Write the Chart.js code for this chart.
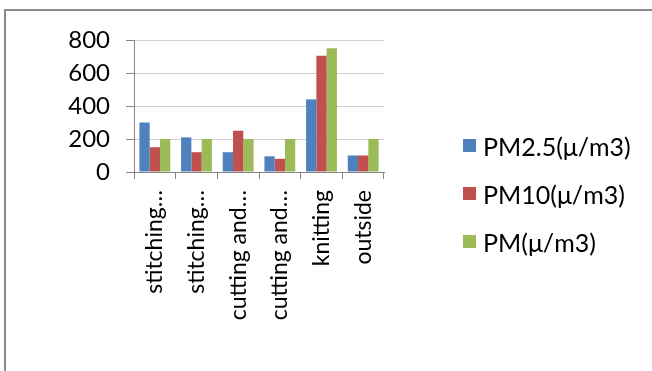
<!DOCTYPE html>
<html>
<head>
<meta charset="utf-8">
<script src="https://cdn.jsdelivr.net/npm/chart.js@4.4.1/dist/chart.umd.min.js"></script>
<style>
  html, body { margin: 0; padding: 0; background: #fff; }
  #wrap { position: relative; width: 652px; height: 371px; overflow: hidden; }
  #frame { position: absolute; left: 4px; top: 9px; width: 700px; height: 420px;
           border: 2px solid #8a8a8a; box-sizing: border-box; }
  #chart { position: absolute; left: 0; top: 0; }
  #legend { position: absolute; left: 463px; top: 0; font-family: Lato, "Noto Sans", sans-serif;
            font-size: 25px; color: #000; }
  .item { position: absolute; left: 0; white-space: nowrap; height: 26px; line-height: 26px; }
  .swatch { position: absolute; left: 0; top: 6px; width: 13px; height: 13px; }
  .label { position: absolute; left: 20px; top: 0; }
</style>
</head>
<body>
<div id="wrap">
  <div id="frame"></div>
  <canvas id="chart" width="652" height="371"></canvas>
  <div id="legend"></div>
</div>
<script>
// Sampling locations
const categories = ["stitching…", "stitching…", "cutting and…", "cutting and…", "knitting", "outside"];

// Particulate concentrations per location
const pm25 = [300, 210, 120, 95, 440, 100];
const pm10 = [150, 120, 250, 80, 705, 100];
const pmTotal = [200, 200, 200, 200, 750, 200];

const seriesNames = ["PM2.5(μ/m3)", "PM10(μ/m3)", "PM(μ/m3)"];
const seriesColors = ["#4F81BD", "#C0504D", "#9BBB59"];

// Y axis tick values
const yTicks = [0, 200, 400, 600, 800];

const FONT = "Lato, 'Noto Sans', sans-serif";

const datasets = [pm25, pm10, pmTotal].map((values, i) => ({
  label: seriesNames[i],
  data: values,
  backgroundColor: seriesColors[i],
  borderWidth: 0,
  categoryPercentage: 0.74,
  barPercentage: 1.0
}));

const chart = new Chart(document.getElementById("chart"), {
  type: "bar",
  data: { labels: categories, datasets },
  options: {
    responsive: false,
    animation: false,
    devicePixelRatio: 1,
    layout: { padding: { left: 0, right: 268, top: 40, bottom: 0 } },
    plugins: { legend: { display: false }, tooltip: { enabled: false } },
    scales: {
      x: {
        offset: true,
        grid: { offset: true, drawOnChartArea: false, drawTicks: true, tickLength: 7, color: "#868686" },
        border: { display: true, color: "#868686", width: 1 },
        ticks: {
          minRotation: 90, maxRotation: 90, autoSkip: false, padding: 11,
          color: "#000", font: { family: FONT, size: 23 }
        },
        afterFit(scale) { scale.height = 199; }
      },
      y: {
        min: 0, max: 800,
        afterBuildTicks(scale) { scale.ticks = yTicks.map(v => ({ value: v })); },
        grid: { color: (ctx) => ctx.tick && ctx.tick.value === 0 ? "#868686" : "#d0d0d0", tickLength: 8,
                tickColor: "#868686" },
        border: { display: true, color: "#868686", width: 1 },
        ticks: { color: "#000", padding: 16, font: { family: FONT, size: 24 } },
        afterFit(scale) { scale.width = 134; }
      }
    }
  }
});

// Legend built from the chart's datasets
const legend = document.getElementById("legend");
chart.data.datasets.forEach((ds, i) => {
  const item = document.createElement("div");
  item.className = "item";
  item.style.top = (133 + i * 48) + "px";
  const sw = document.createElement("span");
  sw.className = "swatch";
  sw.style.background = ds.backgroundColor;
  const lb = document.createElement("span");
  lb.className = "label";
  lb.textContent = ds.label;
  item.appendChild(sw);
  item.appendChild(lb);
  legend.appendChild(item);
});
</script>
</body>
</html>
